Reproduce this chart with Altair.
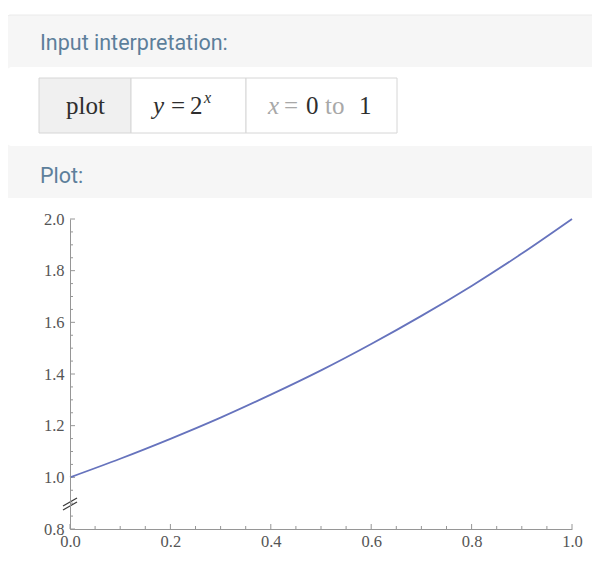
import altair as alt
import pandas as pd

# ---- data ----
x_vals = [0.0, 0.1, 0.2, 0.3, 0.4, 0.5, 0.6, 0.7, 0.8, 0.9, 1.0]
y_vals = [1.0, 1.072, 1.149, 1.231, 1.320, 1.414, 1.516, 1.625, 1.741, 1.866, 2.0]
x_major = [0.0, 0.2, 0.4, 0.6, 0.8, 1.0]
x_minor = [0.05, 0.1, 0.15, 0.25, 0.3, 0.35, 0.45, 0.5, 0.55, 0.65, 0.7, 0.75,
           0.85, 0.9, 0.95]
y_major = [0.8, 1.0, 1.2, 1.4, 1.6, 1.8, 2.0]
y_minor = [0.85, 0.9, 0.95, 1.05, 1.1, 1.15, 1.25, 1.3, 1.35, 1.45, 1.5, 1.55,
           1.65, 1.7, 1.75, 1.85, 1.9, 1.95]

W, H = 502, 310
OX, OY = 70, 219  # page position of plot origin


def px(v):
    return v - OX


def py(v):
    return v - OY


AXIS_COLOR = "#969696"
LABEL_FONT = "Liberation Serif"
x_scale = alt.Scale(domain=[0, 1], nice=False, zero=False)
y_scale = alt.Scale(domain=[0.8, 2.0], nice=False, zero=False)
x_axis = alt.Axis(values=x_major, format=".1f", title=None, ticks=False, grid=False,
                  domainColor=AXIS_COLOR, domainWidth=1, labelFont=LABEL_FONT,
                  labelFontSize=16.5, labelColor="#555555", labelPadding=4,
                  labelFlush=False, zindex=2)
y_axis = alt.Axis(values=y_major, format=".1f", title=None, ticks=False, grid=False,
                  domainColor=AXIS_COLOR, domainWidth=1, labelFont=LABEL_FONT,
                  labelFontSize=16.5, labelColor="#555555", labelPadding=6,
                  labelFlush=False, zindex=2)

one = alt.Data(values=[{}])


def rect(x1, x2, y1, y2, fill, stroke=None, radius=0):
    kw = dict(fill=fill, cornerRadius=radius)
    if stroke:
        kw.update(stroke=stroke, strokeWidth=1)
    return alt.Chart(one).mark_rect(**kw).encode(
        x=alt.value(px(x1)), x2=alt.value(px(x2)),
        y=alt.value(py(y1)), y2=alt.value(py(y2)))


def text(s, x, y, size, color, font="Roboto", style="normal", align="left"):
    return alt.Chart(one).mark_text(
        align=align, baseline="alphabetic", font=font, fontSize=size,
        fontStyle=style, color=color).encode(
        x=alt.value(px(x)), y=alt.value(py(y)), text=alt.value(s))


HEAD = "#5d7f9b"
SERIF = "Liberation Serif"
DARK = "#2e2e2e"
LIGHT = "#a8a8a8"
layers = [
    rect(5, 640, 15, 600, "#f6f6f6", stroke="#eaeaea", radius=6),
    rect(6, 640, 67, 146, "#ffffff", radius=6),
    rect(6, 640, 198, 600, "#ffffff"),
    rect(39, 131, 78, 133, "#f0f0f0", stroke="#d6d6d6"),
    rect(131, 246, 78, 133, "#ffffff", stroke="#d6d6d6"),
    rect(246, 397, 78, 133, "#ffffff", stroke="#d6d6d6"),
    text("Input interpretation:", 40, 50, 21.5, HEAD),
    text("Plot:", 40, 183, 21.5, HEAD),
    text("plot", 85.5, 114, 25, DARK, font=SERIF, align="center"),
    text("y", 153, 114, 25, DARK, font=SERIF, style="italic"),
    text("=", 171, 114, 25, DARK, font=SERIF),
    text("2", 190, 114, 25, DARK, font=SERIF),
    text("x", 204, 103, 16, DARK, font=SERIF, style="italic"),
    text("x", 268, 114, 25, LIGHT, font=SERIF, style="italic"),
    text("=", 284, 114, 25, LIGHT, font=SERIF),
    text("0", 306, 114, 25, DARK, font=SERIF),
    text("to", 325, 114, 25, LIGHT, font=SERIF),
    text("1", 359, 114, 25, DARK, font=SERIF),
]

# ticks drawn inward through the scales
ymaj = alt.Chart(pd.DataFrame({"v": y_major})).mark_rule(color=AXIS_COLOR).encode(
    y=alt.Y("v:Q", scale=y_scale, axis=y_axis), x=alt.value(0), x2=alt.value(5))
ymin = alt.Chart(pd.DataFrame({"v": y_minor})).mark_rule(color=AXIS_COLOR).encode(
    y=alt.Y("v:Q", scale=y_scale, axis=y_axis), x=alt.value(0), x2=alt.value(3))
xmaj = alt.Chart(pd.DataFrame({"v": x_major})).mark_rule(color=AXIS_COLOR).encode(
    x=alt.X("v:Q", scale=x_scale, axis=x_axis), y=alt.value(H - 5), y2=alt.value(H))
xmin = alt.Chart(pd.DataFrame({"v": x_minor})).mark_rule(color=AXIS_COLOR).encode(
    x=alt.X("v:Q", scale=x_scale, axis=x_axis), y=alt.value(H - 3), y2=alt.value(H))

# axis break mark
brk = []
for c in (0.889, 0.9045):
    brk.append(alt.Chart(one).mark_rule(color="#3a3a3a", strokeWidth=1.2).encode(
        x=alt.value(-7), x2=alt.value(7),
        y=alt.datum(c - 0.0155, scale=y_scale, axis=y_axis),
        y2=alt.datum(c + 0.0155)))

line = alt.Chart(pd.DataFrame({"x": x_vals, "y": y_vals})).mark_line(
    color="#6673bd", strokeWidth=1.8, interpolate="natural").encode(
    x=alt.X("x:Q", scale=x_scale, axis=x_axis),
    y=alt.Y("y:Q", scale=y_scale, axis=y_axis))

chart = alt.layer(*layers, ymaj, ymin, xmaj, xmin, *brk, line).properties(
    width=W, height=H,
    autosize=alt.AutoSizeParams(type="none"),
    padding={"left": 62, "top": 211, "right": 20, "bottom": 27},
    background="white",
).configure_view(stroke=None)

chart.save("out.html", embed_options={"renderer": "svg", "actions": False})
